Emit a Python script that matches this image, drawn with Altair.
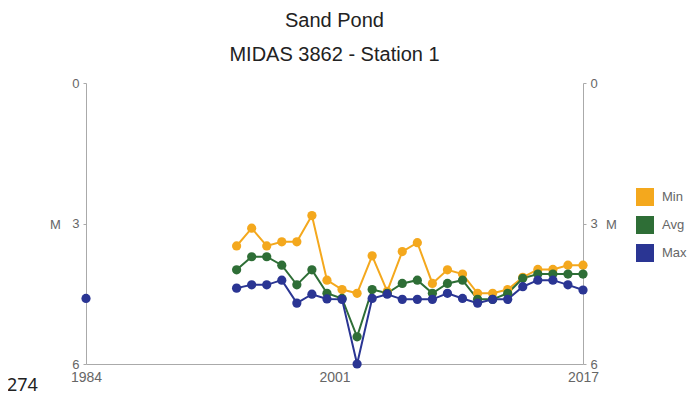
import altair as alt
import pandas as pd

years = list(range(1994, 2018))
min_vals = [3.48, 3.10, 3.48, 3.39, 3.39, 2.83, 4.21, 4.41, 4.49, 3.69, 4.45, 3.60,
            3.41, 4.28, 3.99, 4.08, 4.49, 4.49, 4.41, 4.15, 3.98, 3.98, 3.89, 3.89]
avg_vals = [3.99, 3.71, 3.71, 3.89, 4.31, 3.99, 4.49, 4.60, 5.42, 4.41, 4.49, 4.28,
            4.21, 4.49, 4.28, 4.21, 4.62, 4.62, 4.49, 4.17, 4.08, 4.08, 4.08, 4.08]
max_vals = [4.38, 4.31, 4.31, 4.21, 4.70, 4.51, 4.61, 4.62, 6.00, 4.60, 4.51, 4.62,
            4.62, 4.62, 4.49, 4.60, 4.70, 4.62, 4.62, 4.35, 4.21, 4.21, 4.31, 4.42]
early_year = [1984]
early_max = [4.60]

series_names = ["Min", "Avg", "Max"]
series_colors = ["#F4A81D", "#2E6E36", "#2A3593"]

rows = []
for name, vals in zip(series_names, [min_vals, avg_vals, max_vals]):
    for y, v in zip(years, vals):
        rows.append({"year": y, "depth": v, "series": name, "seg": name + "_b"})
for y, v in zip(early_year, early_max):
    rows.append({"year": y, "depth": v, "series": "Max", "seg": "Max_a"})
df = pd.DataFrame(rows)

W, H = 497, 281

x_enc = alt.X("year:Q",
              scale=alt.Scale(domain=[1984, 2017], nice=False, zero=False),
              axis=alt.Axis(values=[1984, 2000.5, 2017],
                            labelExpr="format(round(datum.value), 'd')",
                            title=None, grid=False, ticks=False,
                            labelFlush=False, labelOverlap=False,
                            domainColor="#aaaaaa", labelColor="#666666",
                            labelFontSize=14, labelPadding=6,
                            labelFont="Liberation Sans"))

y_scale = alt.Scale(domain=[0, 6], reverse=True, nice=False, zero=False)

color_enc = alt.Color("series:N",
                      scale=alt.Scale(domain=series_names, range=series_colors),
                      legend=alt.Legend(orient="none", legendX=550, legendY=105,
                                        title=None, symbolType="square",
                                        symbolSize=324, symbolStrokeWidth=0,
                                        labelFontSize=13, labelColor="#666666",
                                        labelFont="Liberation Sans",
                                        rowPadding=10, padding=0, labelOffset=8))

def y_axis(orient, tx):
    return alt.Axis(orient=orient, values=[0, 3, 6], title="M", titleAngle=0,
                    titleX=tx, titleY=141, titleAlign="center",
                    titleBaseline="middle", titleFontWeight="normal",
                    titleFontSize=13, titleColor="#666666",
                    titleFont="Liberation Sans",
                    grid=False, tickSize=3, tickColor="#aaaaaa",
                    domainColor="#aaaaaa", labelColor="#666666",
                    labelFontSize=13, labelPadding=4, labelFlush=False,
                    labelFont="Liberation Sans")

base = alt.Chart(df)

lines = base.mark_line(strokeWidth=2).encode(
    x=x_enc,
    y=alt.Y("depth:Q", scale=y_scale, axis=y_axis("left", -31)),
    color=color_enc,
    detail="seg:N",
    order=alt.Order("year:Q"),
)

points = base.mark_circle(size=85, opacity=1).encode(
    x="year:Q",
    y=alt.Y("depth:Q", scale=y_scale, axis=None),
    color=alt.Color("series:N", scale=alt.Scale(domain=series_names, range=series_colors), legend=None),
)

right_axis = base.mark_circle(opacity=0).encode(
    x="year:Q",
    y=alt.Y("depth:Q", scale=y_scale, axis=y_axis("right", 28)),
)

note = alt.Chart(pd.DataFrame({"t": ["274"]})).mark_text(
    align="left", baseline="alphabetic", fontSize=18, color="#222222",
    font="Noto Sans"
).encode(text="t:N", x=alt.value(-79), y=alt.value(308))

chart = alt.layer(lines, points, right_axis, note).resolve_axis(
    y="independent"
).properties(
    width=W, height=H,
    autosize=alt.AutoSizeParams(type="none"),
    padding={"left": 78, "top": 75, "right": 105, "bottom": 34},
    title=alt.TitleParams("Sand Pond", subtitle="MIDAS 3862 - Station 1",
                          anchor="middle", frame="group", fontSize=20,
                          fontWeight="normal", font="Liberation Sans",
                          color="#222222", subtitleFontSize=20,
                          subtitleFont="Liberation Sans",
                          subtitleColor="#222222", subtitlePadding=14,
                          offset=12),
).configure_view(stroke=None)

chart.save("out.html", embed_options={"renderer": "svg", "actions": False})
